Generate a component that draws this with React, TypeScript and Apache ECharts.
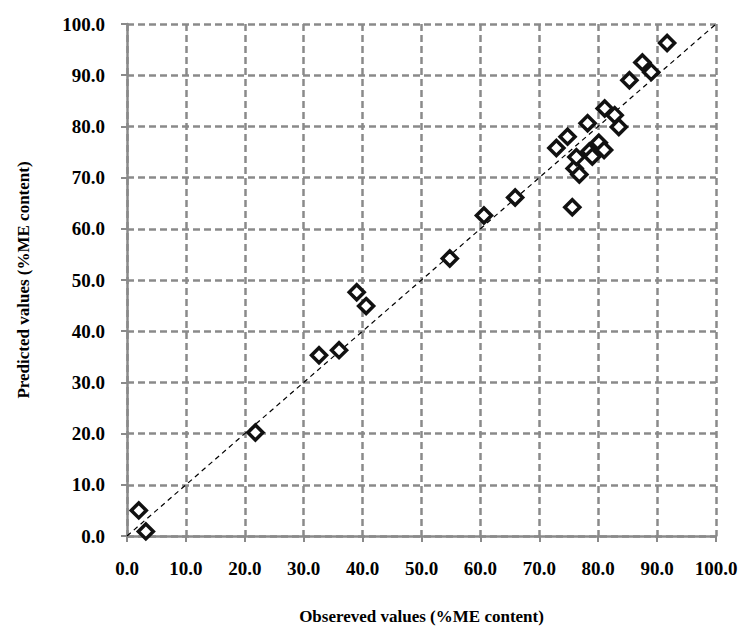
import React, { useEffect, useRef } from "react";
import * as echarts from "echarts";

const observed = [
  2.0, 3.2, 21.8, 32.6, 36.0, 39.0, 40.6, 54.8, 60.6, 65.9,
  75.6, 76.0, 76.8, 76.3, 72.9, 74.8, 78.2, 78.5, 79.0, 80.1,
  81.0, 81.1, 82.8, 83.5, 85.3, 87.5, 89.0, 91.7,
];
const predicted = [
  5.0, 0.9, 20.2, 35.3, 36.3, 47.6, 44.9, 54.2, 62.6, 66.1,
  64.2, 71.8, 70.6, 74.0, 75.8, 78.0, 80.6, 75.1, 74.1, 76.8,
  75.4, 83.5, 82.2, 79.9, 89.0, 92.5, 90.6, 96.3,
];
const refLine = [
  [0, 0],
  [100, 100],
];
const xTitle = "Obsereved values (%ME content)";
const yTitle = "Predicted values (%ME content)";

const FONT = "'Liberation Serif', 'DejaVu Serif', serif";
const GRAY = "#8a8a8a";

export default function App() {
  const ref = useRef<HTMLDivElement>(null);
  useEffect(() => {
    if (!ref.current) return;
    const chart = echarts.init(ref.current, undefined, { renderer: "svg" });
    const axisCommon = {
      type: "value",
      min: 0,
      max: 100,
      interval: 10,
      nameLocation: "middle",
      nameTextStyle: { fontFamily: FONT, fontWeight: "bold", fontSize: 17, color: "#000" },
      axisLine: { show: true, lineStyle: { color: GRAY, width: 2.5 } },
      axisTick: { show: true, length: 6, lineStyle: { color: GRAY, width: 2 } },
      axisLabel: {
        fontFamily: FONT,
        fontWeight: "bold",
        fontSize: 19,
        color: "#000",
        formatter: (v: number) => v.toFixed(1),
      },
      splitLine: { show: true, lineStyle: { color: GRAY, width: 2.5, type: [7, 4] } },
    };
    chart.setOption({
      animation: false,
      backgroundColor: "#fff",
      grid: { left: 127, right: 30, top: 24, bottom: 93, containLabel: false },
      xAxis: {
        ...axisCommon,
        name: xTitle,
        nameGap: 72,
        axisLabel: { ...axisCommon.axisLabel, margin: 23 },
      },
      yAxis: {
        ...axisCommon,
        name: yTitle,
        nameGap: 95,
        axisLabel: { ...axisCommon.axisLabel, margin: 22 },
      },
      series: [
        {
          type: "line",
          data: refLine,
          symbol: "none",
          lineStyle: { color: "#000", width: 1.2, type: [5, 4] },
          z: 1,
          silent: true,
        },
        {
          type: "scatter",
          data: observed.map((x, i) => [x, predicted[i]]),
          symbol: "diamond",
          symbolSize: 15,
          itemStyle: { color: "#fff", borderColor: "#111", borderWidth: 3.5, opacity: 1 },
          z: 3,
        },
      ],
    });
    return () => chart.dispose();
  }, []);
  return (
    <div
      ref={ref}
      style={{ position: "fixed", left: 0, top: 0, width: 746, height: 630, background: "#fff" }}
    />
  );
}
